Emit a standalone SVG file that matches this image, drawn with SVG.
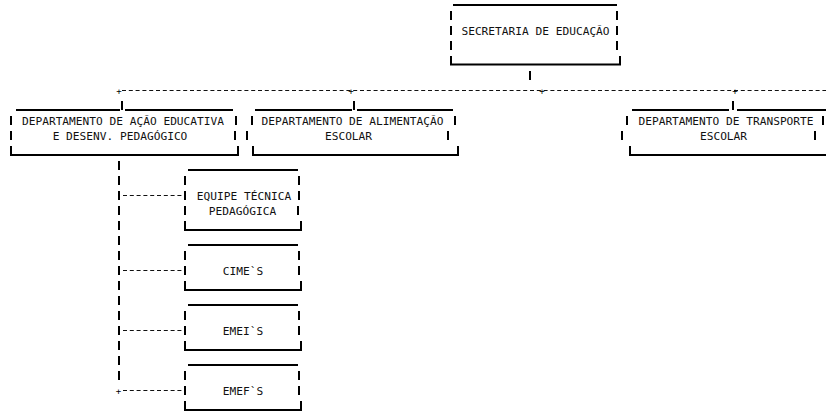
<svg xmlns="http://www.w3.org/2000/svg" width="826" height="414" viewBox="0 0 826 414">
<style>
.t{font-family:"DejaVu Sans Mono","Liberation Mono",monospace;font-size:11.2px;fill:#111;text-anchor:middle}
.b{stroke:#000;stroke-width:2;fill:none}
.d{stroke:#111;stroke-width:1;stroke-dasharray:4 2.8;fill:none}
.v{stroke:#000;stroke-width:2;stroke-dasharray:9 6;fill:none}
.p{font-family:"DejaVu Sans Mono","Liberation Mono",monospace;font-size:9px;fill:#000;text-anchor:middle}
</style>
<rect width="826" height="414" fill="#fff"/>
<g id="connectors">
<path class="b" d="M530 71V80M122 101V110M354 101V110M733 101V110"/>
<path class="d" d="M122 90.5H826"/>
<text class="p" x="119" y="94">+</text>
<text class="p" x="351" y="94">+</text>
<text class="p" x="542" y="94">+</text>
<text class="p" x="735" y="94">+</text>
<path class="v" d="M119 161V381"/>
<path class="d" d="M123 195.5H183M123 270.5H183M123 330.5H183M123 390.5H183"/>
<text class="p" x="118.5" y="394">+</text>
</g>
<g id="secretaria">
<path class="b" d="M453 5H617M451 11V20M451 26V35M451 41V50M451 56V65.5M617 11V20M617 26V35M617 41V50M620 56V65.5M451 64.5H620"/>
<text class="t" x="535.5" y="35">SECRETARIA DE EDUCAÇÃO</text>
</g>
<g id="dept-acao-educativa">
<path class="b" d="M16 110H120M125 110H233M11 116V125M11 131V140M11 146V156M236 116V125M235 131V140M238 146V156M11 155H238"/>
<text class="t" x="123" y="125">DEPARTAMENTO DE AÇÃO EDUCATIVA</text>
<text class="t" x="120" y="140">E DESENV. PEDAGÓGICO</text>
</g>
<g id="dept-alimentacao">
<path class="b" d="M255 110H352M357 110H453M252 116V125M247 131V140M253 146V156M455 116V125M448 131V140M458 146V156M253 155H458"/>
<text class="t" x="352.5" y="125">DEPARTAMENTO DE ALIMENTAÇÃO</text>
<text class="t" x="348.5" y="140">ESCOLAR</text>
</g>
<g id="dept-transporte">
<path class="b" d="M632 110H729M737 110H826M627 116V125M622 131V140M630 146V156M823 116V125M815 131V140M630 155H826"/>
<text class="t" x="726" y="125">DEPARTAMENTO DE TRANSPORTE</text>
<text class="t" x="723.5" y="140">ESCOLAR</text>
</g>
<g id="equipe-tecnica">
<path class="b" d="M188 170H298M185 176V185M185 191V200M185 206V215M185 221V231M299 176V185M299 191V200M298 206V215M301 221V231M185 230H301"/>
<text class="t" x="244" y="200">EQUIPE TÉCNICA</text>
<text class="t" x="242.5" y="215">PEDAGÓGICA</text>
</g>
<g id="cimes">
<path class="b" d="M188 245H298M185 251V260M185 266V275M185 281V291M299 251V260M299 266V275M301 281V291M185 290H301"/>
<text class="t" x="243" y="275">CIME`S</text>
</g>
<g id="emeis">
<path class="b" d="M188 305H298M185 311V320M185 326V335M185 341V351M299 311V320M299 326V335M301 341V351M185 350H301"/>
<text class="t" x="243" y="335">EMEI`S</text>
</g>
<g id="emefs">
<path class="b" d="M188 365H298M185 371V380M185 386V395M185 401V411M299 371V380M299 386V395M301 401V411M185 410H301"/>
<text class="t" x="243" y="395">EMEF`S</text>
</g>
</svg>
